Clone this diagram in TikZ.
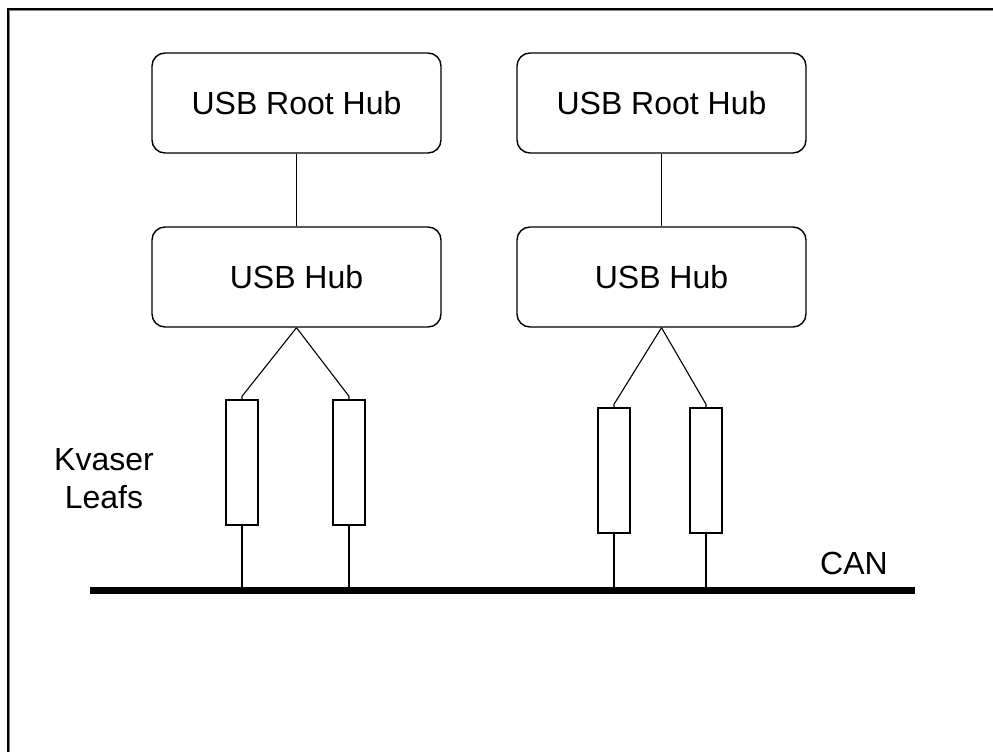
\documentclass[tikz,border=0pt]{standalone}
\usepackage{fontspec}
\setmainfont{Liberation Sans}
\usetikzlibrary{calc}
\begin{document}
\begin{tikzpicture}[x=1pt,y=-1pt,
  hubbox/.style={draw=black, line width=1.4pt, rounded corners=13pt,
    minimum width=289pt, minimum height=100pt, inner sep=0pt,
    font=\fontsize{32}{38}\selectfont},
  leafbox/.style={draw=black, line width=1.4pt, minimum width=32pt,
    minimum height=125pt, inner sep=0pt},
  wire/.style={line width=1.1pt, black},
  lbl/.style={font=\fontsize{32}{38}\selectfont, inner sep=0pt}]
\useasboundingbox (0,0) rectangle (993,752);
% frame
\draw[line width=1pt, gray] (9.8,760) -- (9.8,10.8) -- (1000,10.8);
\draw[line width=2.4pt, black] (8.2,760) -- (8.2,9.2) -- (1000,9.2);
% hubs
\node[hubbox] (rootA) at (296.5,103) {USB Root Hub};
\node[hubbox] (rootB) at (661.5,103) {USB Root Hub};
\node[hubbox] (hubA) at (296.5,277) {USB Hub};
\node[hubbox] (hubB) at (661.5,277) {USB Hub};
\draw[wire] (rootA.south) -- (hubA.north);
\draw[wire] (rootB.south) -- (hubB.north);
% leafs
\node[leafbox] (leaf1) at (242,462.5) {};
\node[leafbox] (leaf2) at (349,462.5) {};
\node[leafbox] (leaf3) at (614,470.5) {};
\node[leafbox] (leaf4) at (706,470.5) {};
\draw[wire] (hubA.south) -- ($(leaf1.north)+(0,-3)$) -- (leaf1.north);
\draw[wire] (hubA.south) -- ($(leaf2.north)+(0,-3)$) -- (leaf2.north);
\draw[wire] (hubB.south) -- ($(leaf3.north)+(0,-3)$) -- (leaf3.north);
\draw[wire] (hubB.south) -- ($(leaf4.north)+(0,-3)$) -- (leaf4.north);
% bus
\coordinate (busL) at (90,590);
\coordinate (busR) at (915,590);
\draw[line width=7pt, black] (busL) -- (busR);
\draw[wire] (leaf1.south) -- (leaf1.south |- busL);
\draw[wire] (leaf2.south) -- (leaf2.south |- busL);
\draw[wire] (leaf3.south) -- (leaf3.south |- busL);
\draw[wire] (leaf4.south) -- (leaf4.south |- busL);
% labels
\node[lbl, align=center] (leafs) at (104,479) {Kvaser\\Leafs};
\node[lbl] (can) at (854,563) {CAN};
\end{tikzpicture}
\end{document}
